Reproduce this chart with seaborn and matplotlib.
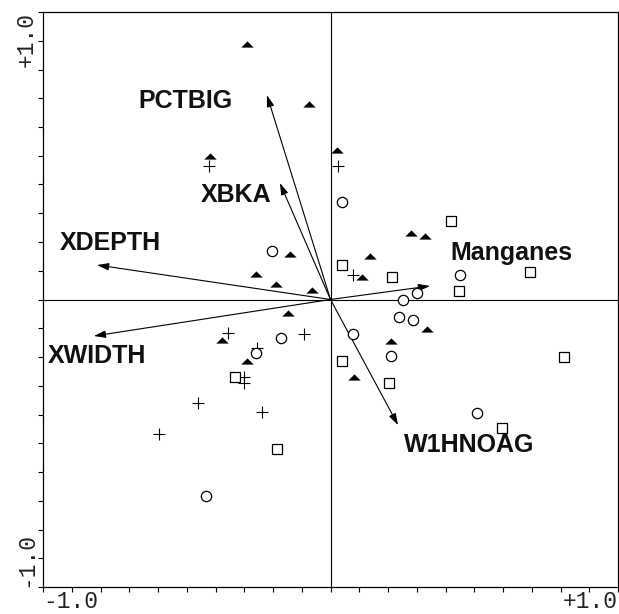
import numpy as np
import pandas as pd
import matplotlib
matplotlib.use("Agg")
import matplotlib.pyplot as plt
from matplotlib.path import Path
import seaborn as sns

# --- sample scores, one group per symbol ---
triangle_x = [-0.29, -0.075, -0.42, -0.14, -0.26, -0.19, -0.064, 0.023, 0.28, 0.33,
              0.137, 0.11, -0.148, -0.377, -0.29, 0.336, 0.21, 0.082]
triangle_y = [0.89, 0.68, 0.50, 0.16, 0.09, 0.054, 0.033, 0.52, 0.23, 0.22,
              0.151, 0.078, -0.047, -0.141, -0.214, -0.103, -0.144, -0.27]

plus_x = [-0.423, 0.026, 0.078, -0.357, -0.092, -0.256, -0.301, -0.301, -0.461, -0.238, -0.597]
plus_y = [0.464, 0.464, 0.085, -0.116, -0.120, -0.169, -0.270, -0.290, -0.360, -0.391, -0.468]

circle_x = [0.040, -0.203, 0.450, 0.301, 0.252, 0.238, 0.287, 0.078, 0.210, -0.172,
            -0.259, -0.433, 0.510]
circle_y = [0.339, 0.169, 0.085, 0.023, -0.002, -0.061, -0.071, -0.120, -0.197, -0.134,
            -0.186, -0.683, -0.395]

square_x = [0.419, 0.040, 0.214, 0.694, 0.447, 0.040, 0.203, 0.812, 0.597, -0.332, -0.186]
square_y = [0.273, 0.120, 0.078, 0.096, 0.030, -0.214, -0.290, -0.200, -0.447, -0.270, -0.520]

# --- environmental variable vectors ---
variables = ["PCTBIG", "XBKA", "XDEPTH", "XWIDTH", "Manganes", "W1HNOAG"]
vector_x = [-0.221, -0.176, -0.812, -0.823, 0.346, 0.235]
vector_y = [0.711, 0.405, 0.120, -0.127, 0.047, -0.437]

axis_min, axis_max = -1.0, 1.0
axis_labels = ["-1.0", "+1.0"]

# label anchor (centre x, baseline y) for each vector name
label_anchor = {
    "PCTBIG": (-0.506, 0.666),
    "XBKA": (-0.330, 0.339),
    "XDEPTH": (-0.765, 0.172),
    "XWIDTH": (-0.812, -0.221),
    "Manganes": (0.630, 0.137),
    "W1HNOAG": (0.482, -0.530),
}

sns.set_style("white")
plt.rcParams["font.family"] = ["Liberation Sans", "DejaVu Sans"]

fig = plt.figure(figsize=(6.19, 6.14), dpi=100)
ax = fig.add_axes([43 / 619, 27 / 614, 575 / 619, 575 / 614])

# flattened triangle symbol
flat_triangle = Path([(-1.0, -0.5), (1.0, -0.5), (0.0, 0.5), (-1.0, -0.5)],
                     [Path.MOVETO, Path.LINETO, Path.LINETO, Path.CLOSEPOLY])

df_tri = pd.DataFrame({"x": triangle_x, "y": triangle_y})
df_plus = pd.DataFrame({"x": plus_x, "y": plus_y})
df_circ = pd.DataFrame({"x": circle_x, "y": circle_y})
df_sq = pd.DataFrame({"x": square_x, "y": square_y})

ax.axhline(0, color="black", lw=0.8, zorder=1)
ax.axvline(0, color="black", lw=0.8, zorder=1)

sns.scatterplot(data=df_tri, x="x", y="y", marker=flat_triangle, s=80,
                color="black", edgecolor="black", linewidth=0, ax=ax, zorder=3)
sns.scatterplot(data=df_plus, x="x", y="y", marker="+", s=70,
                color="black", linewidth=0.8, ax=ax, zorder=3)
sns.scatterplot(data=df_circ, x="x", y="y", marker="o", s=55,
                facecolor="white", edgecolor="black", linewidth=0.9, ax=ax, zorder=3)
sns.scatterplot(data=df_sq, x="x", y="y", marker="s", s=45,
                facecolor="white", edgecolor="black", linewidth=0.9, ax=ax, zorder=3)

for name, vx, vy in zip(variables, vector_x, vector_y):
    ax.annotate("", xy=(vx, vy), xytext=(0, 0),
                arrowprops=dict(arrowstyle="-|>,head_length=0.7,head_width=0.22",
                                mutation_scale=10, lw=0.8, color="black",
                                shrinkA=0, shrinkB=0),
                zorder=2)
    lx, ly = label_anchor[name]
    ax.text(lx, ly, name, ha="center", va="baseline", fontsize=18,
            fontweight="bold", color="#111111", zorder=4)

ax.set_xlim(axis_min, axis_max)
ax.set_ylim(axis_min, axis_max)
ax.set_xlabel("")
ax.set_ylabel("")

ticks = np.linspace(axis_min, axis_max, 21)
ax.set_xticks(ticks)
ax.set_yticks(ticks)
ax.set_xticklabels([])
ax.set_yticklabels([])
ax.tick_params(axis="both", which="major", direction="out", length=3.5, width=0.8,
               color="black", bottom=True, left=True, top=False, right=False)

for sp in ax.spines.values():
    sp.set_color("black")
    sp.set_linewidth(0.9)

mono = ["Liberation Mono", "DejaVu Sans Mono"]
# end labels of the horizontal axis
ax.annotate(axis_labels[0], xy=(axis_min, 0), xycoords=("data", "axes fraction"),
            xytext=(0, -2), textcoords="offset points", ha="left", va="top",
            fontsize=16.5, family=mono, color="#222222")
ax.annotate(axis_labels[1], xy=(axis_max, 0), xycoords=("data", "axes fraction"),
            xytext=(0, -2), textcoords="offset points", ha="right", va="top",
            fontsize=16.5, family=mono, color="#222222")
# end labels of the vertical axis
ax.annotate(axis_labels[1], xy=(0, axis_max), xycoords=("axes fraction", "data"),
            xytext=(-4, 0), textcoords="offset points", ha="right", va="top",
            rotation=90, fontsize=16.5, family=mono, color="#222222")
ax.annotate(axis_labels[0], xy=(0, axis_min), xycoords=("axes fraction", "data"),
            xytext=(-4, 0), textcoords="offset points", ha="right", va="bottom",
            rotation=90, fontsize=16.5, family=mono, color="#222222")

fig.savefig("out.png", dpi=100, facecolor="white")
